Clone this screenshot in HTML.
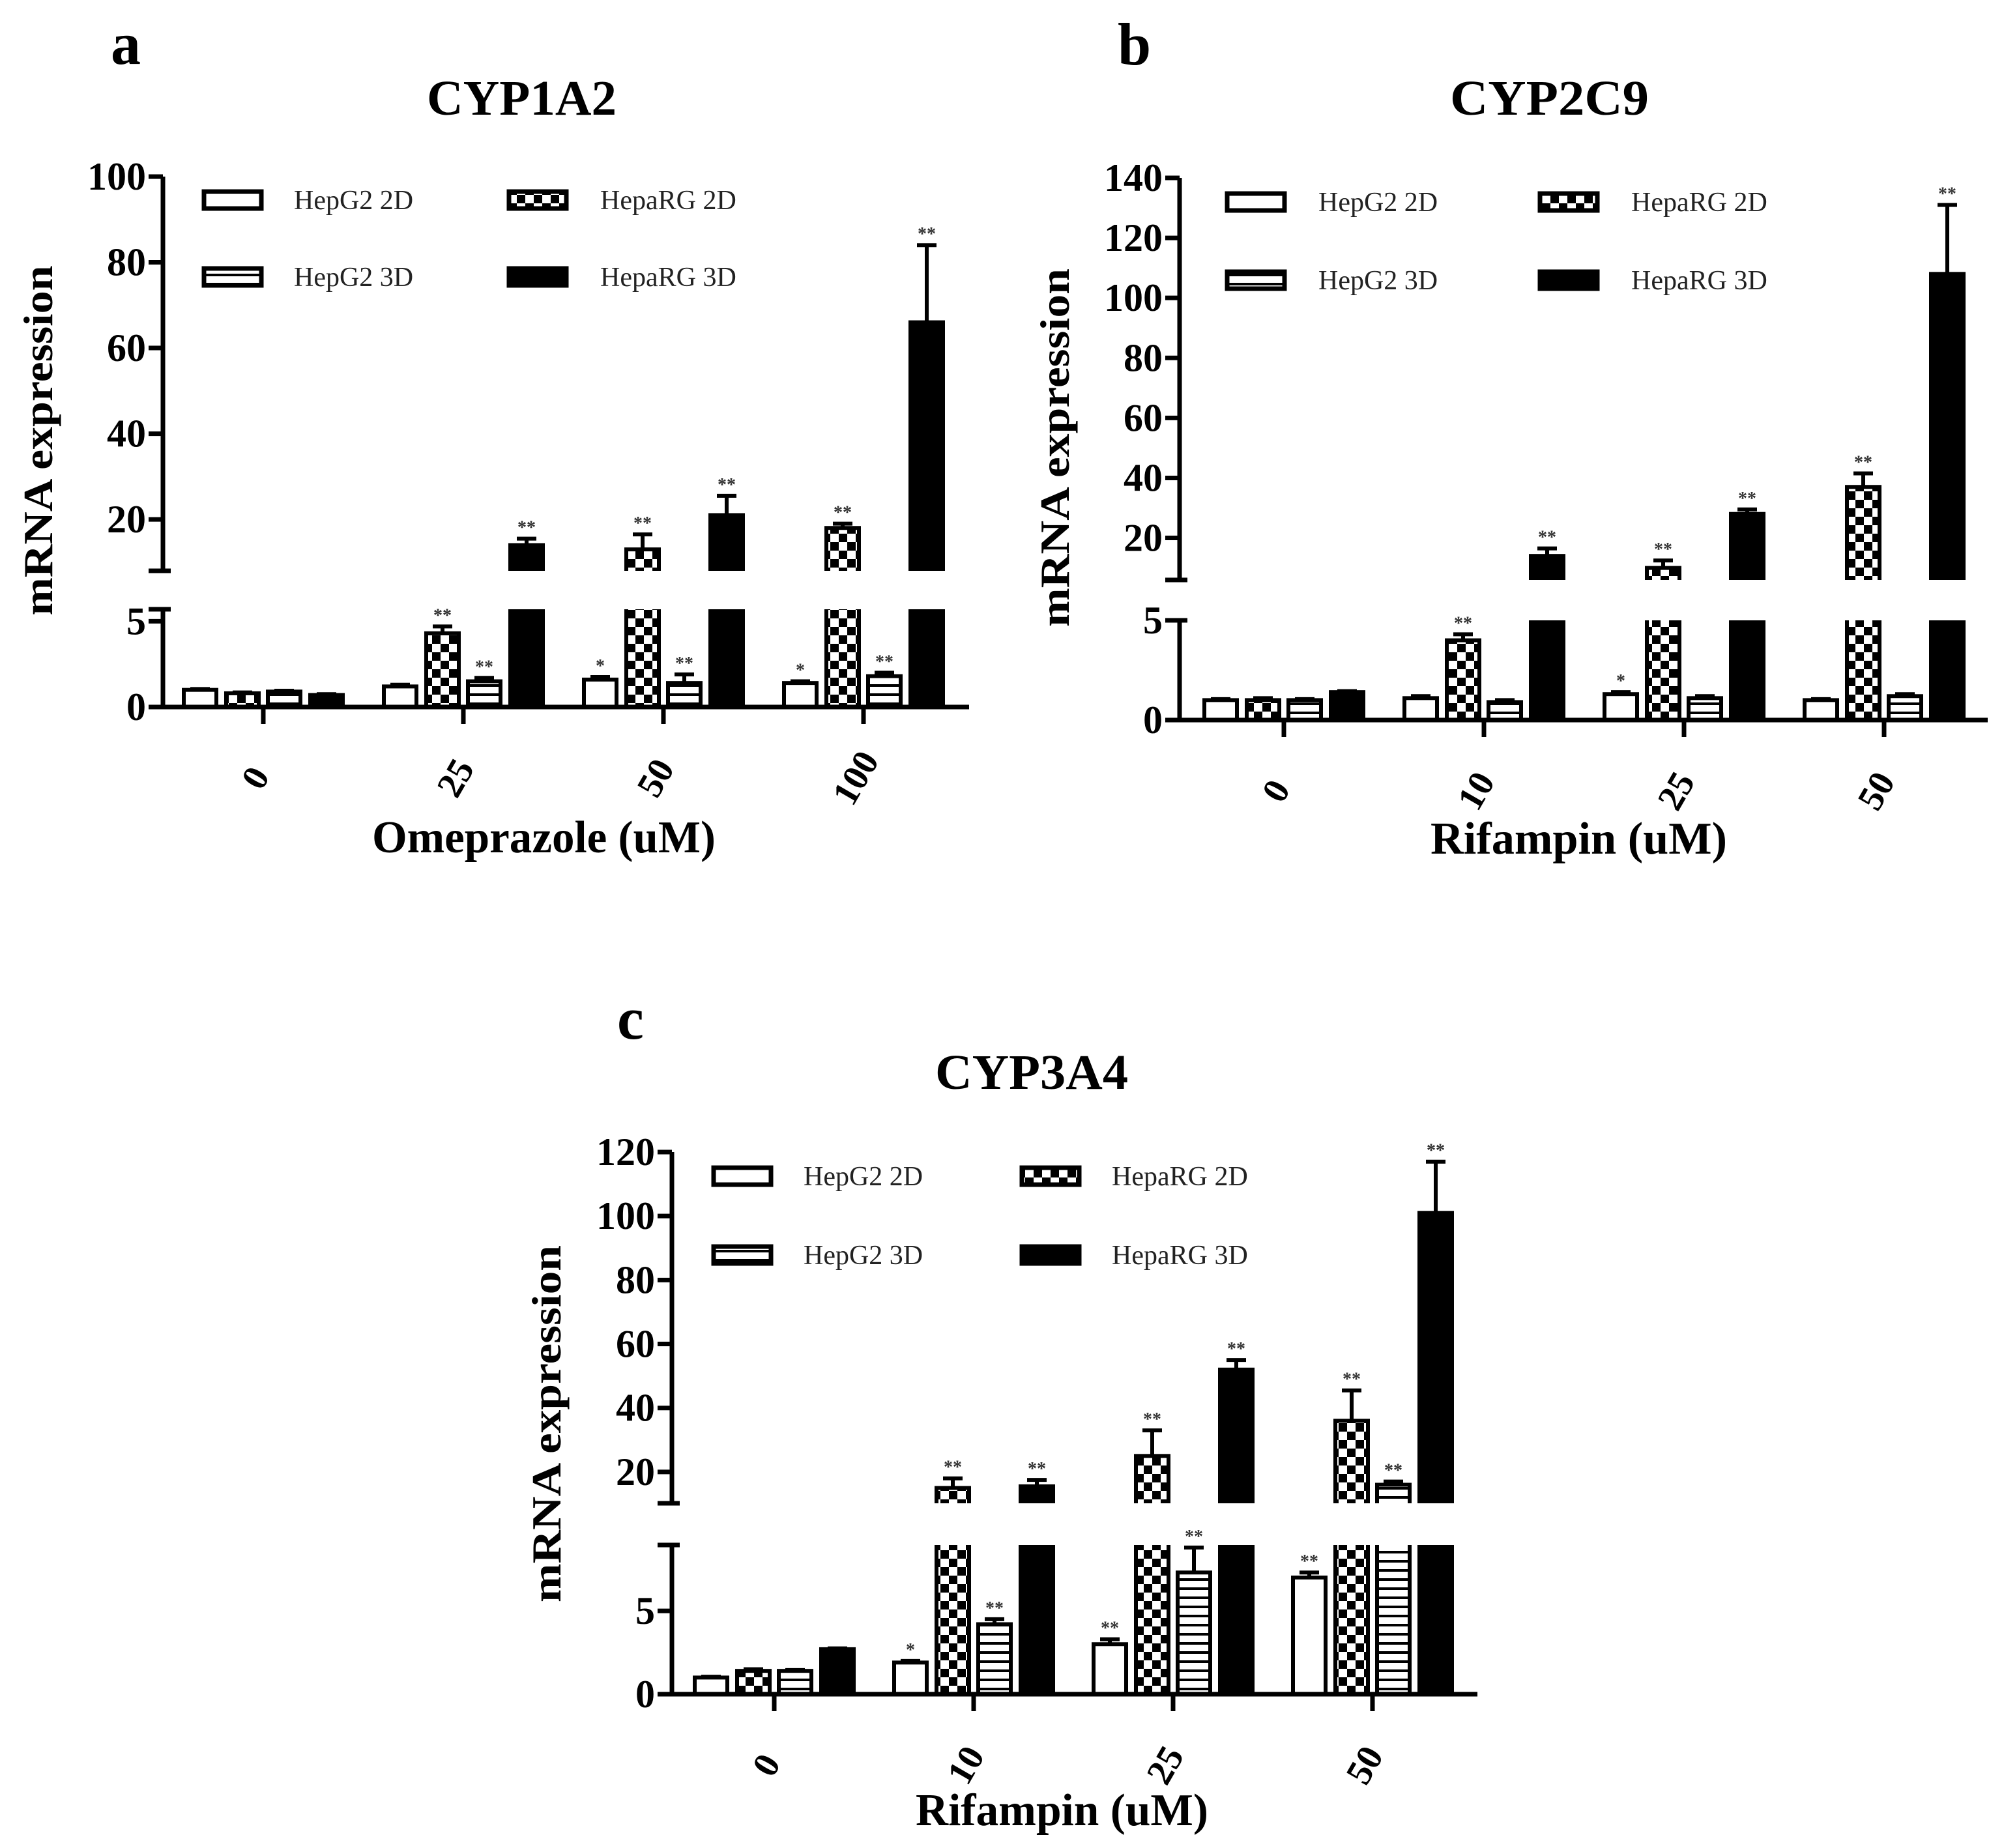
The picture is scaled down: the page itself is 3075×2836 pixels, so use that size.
<!DOCTYPE html>
<html><head><meta charset="utf-8"><style>
html,body{margin:0;padding:0;background:#fff}
svg{display:block}
text{font-family:"Liberation Serif",serif}
</style></head><body>
<svg id="fig" width="3075" height="2836" viewBox="0 0 3075 2836" xmlns="http://www.w3.org/2000/svg">
<defs>
<pattern id="checker" patternUnits="userSpaceOnUse" width="26" height="26">
<rect width="26" height="26" fill="#fff"/><rect width="13" height="13" fill="#000"/><rect x="13" y="13" width="13" height="13" fill="#000"/>
</pattern>
<pattern id="stripes" patternUnits="userSpaceOnUse" width="12" height="14">
<rect width="12" height="14" fill="#fff"/><rect y="0" width="12" height="4" fill="#000"/>
</pattern>
</defs>
</svg>
<script>
// ---------- Panel a data (CYP1A2, Omeprazole) ----------
const aCats = ["0","25","50","100"];
const aHepG22D = [1.0, 1.2, 1.6, 1.4];
const aHepaRG2D = [0.8, 4.3, 13, 18];
const aHepG23D = [0.9, 1.5, 1.4, 1.8];
const aHepaRG3D = [0.7, 14, 21, 66];
const aErrHepG22D = [0.05, 0.1, 0.15, 0.1];
const aErrHepaRG2D = [0.05, 0.4, 3.5, 1.0];
const aErrHepG23D = [0.05, 0.2, 0.5, 0.2];
const aErrHepaRG3D = [0.05, 1.5, 4.5, 18];
const aSigHepG22D = ["","","*","*"];
const aSigHepaRG2D = ["","**","**","**"];
const aSigHepG23D = ["","**","**","**"];
const aSigHepaRG3D = ["","**","**","**"];
const aUpperTicks = [20,40,60,80,100];
const aLowerTicks = [0,5];
// ---------- Panel b data (CYP2C9, Rifampin) ----------
const bCats = ["0","10","25","50"];
const bHepG22D = [1.0, 1.1, 1.3, 1.0];
const bHepaRG2D = [1.0, 4.0, 10, 37];
const bHepG23D = [1.0, 0.9, 1.1, 1.2];
const bHepaRG3D = [1.4, 14, 28, 108];
const bErrHepG22D = [0.05, 0.1, 0.1, 0.05];
const bErrHepaRG2D = [0.1, 0.3, 2.5, 4.5];
const bErrHepG23D = [0.05, 0.1, 0.1, 0.1];
const bErrHepaRG3D = [0.05, 2.5, 1.5, 23];
const bSigHepG22D = ["","","*",""];
const bSigHepaRG2D = ["","**","**","**"];
const bSigHepG23D = ["","","",""];
const bSigHepaRG3D = ["","**","**","**"];
const bUpperTicks = [20,40,60,80,100,120,140];
const bLowerTicks = [0,5];
// ---------- Panel c data (CYP3A4, Rifampin) ----------
const cCats = ["0","10","25","50"];
const cHepG22D = [1.0, 1.9, 3.0, 7.0];
const cHepaRG2D = [1.4, 15, 25, 36];
const cHepG23D = [1.4, 4.2, 7.3, 16];
const cHepaRG3D = [2.7, 15.5, 52, 101];
const cErrHepG22D = [0.05, 0.1, 0.3, 0.3];
const cErrHepaRG2D = [0.1, 3, 8, 9.5];
const cErrHepG23D = [0.05, 0.3, 1.5, 1.0];
const cErrHepaRG3D = [0.05, 2, 3, 16];
const cSigHepG22D = ["","*","**","**"];
const cSigHepaRG2D = ["","**","**","**"];
const cSigHepG23D = ["","**","**","**"];
const cSigHepaRG3D = ["","**","**","**"];
const cUpperTicks = [20,40,60,80,100,120];
const cLowerTicks = [0,5];

const NS = "http://www.w3.org/2000/svg";
const svg = document.getElementById('fig');
function mk(tag, attrs, parent){
  const e = document.createElementNS(NS, tag);
  for (const k in attrs) e.setAttribute(k, attrs[k]);
  (parent||svg).appendChild(e);
  return e;
}
const fills = ["#fff","url(#checker)","url(#stripes)","#000"];
const seriesNames = ["HepG2 2D","HepaRG 2D","HepG2 3D","HepaRG 3D"];
const seriesKeys = ["hepg2-2d","heparg-2d","hepg2-3d","heparg-3d"];

function drawPanel(p, id){
  const g = mk('g', {});
  
  
  // scales
  const yLow = v => p.zeroY - (v / p.lowMax) * (p.zeroY - p.lowTopY);
  const yUp = v => p.upBotY - (v - p.upMin) / (p.upMax - p.upMin) * (p.upBotY - p.upTopY);
  const xG = i => p.x0Tick + i * p.groupStep;
  const offs = [-97, -32, 32, 97], bw = 50;
  // labels
  let t = mk('text', {x:p.letterX, y:p.letterY, 'font-size':92, 'font-weight':'bold'}, g); t.textContent = id;
   
  t = mk('text', {x:p.titleX, y:p.titleY, 'font-size':76, 'font-weight':'bold', textLength:p.titleW, lengthAdjust:'spacingAndGlyphs'}, g); t.textContent = p.title;
   
  t = mk('text', {x:0, y:0, 'font-size':64, 'font-weight':'bold', 'text-anchor':'middle', textLength:p.yTitleLen, lengthAdjust:'spacingAndGlyphs', transform:`translate(${p.yTitleX},${p.yTitleY}) rotate(-90)`}, g); t.textContent = 'mRNA expression';
   
  t = mk('text', {x:p.xTitleX, y:p.xTitleY, 'font-size':70, 'font-weight':'bold', textLength:p.xTitleW, lengthAdjust:'spacingAndGlyphs'}, g); t.textContent = p.xTitle;
   
  // clip paths
  const cu = mk('clipPath', {id:'cu'+id}, g); mk('rect', {x:p.axisX, y:0, width:p.axisEnd-p.axisX, height:p.upBotY}, cu);
  const cl = mk('clipPath', {id:'cl'+id}, g); mk('rect', {x:p.axisX, y:p.lowTopY, width:p.axisEnd-p.axisX, height:p.zeroY-p.lowTopY+3}, cl);
  const gu = mk('g', {'clip-path':`url(#cu${id})`}, g);
  const gl = mk('g', {'clip-path':`url(#cl${id})`}, g);
  const bars = mk('g', {}, g);
  // bars
  p.series.forEach((vals, s) => {
    vals.forEach((v, i) => {
      const cx = xG(i) + offs[s], x = cx - bw/2;
      const r1 = mk('rect', {x:x, y: v > p.lowMax ? p.lowTopY - 20 : yLow(v), width:bw, height: v > p.lowMax ? p.zeroY - p.lowTopY + 20 : p.zeroY - yLow(v), fill:fills[s], stroke:'#000', 'stroke-width':6}, gl);
      
      
      const e = p.errs[s][i];
      let topY, ex;
      if (v > p.lowMax) {
        const r2 = mk('rect', {x:x, y:yUp(v), width:bw, height:p.upBotY - yUp(v) + 20, fill:fills[s], stroke:'#000', 'stroke-width':6}, gu);
        
        
        topY = yUp(v); ex = yUp(v + e);
      } else { topY = yLow(v); ex = yLow(Math.min(v + e, p.lowMax)); }
      const eb = mk('path', {d:`M${cx},${topY} V${ex} M${cx-15},${ex} H${cx+15}`, stroke:'#000', 'stroke-width':6, fill:'none'}, bars);
      
      
      const sg = p.sigs[s][i];
      if (sg) {
        const st = mk('text', {x:cx, y:ex - 8, 'font-size':28, 'font-weight':'bold', 'text-anchor':'middle', fill:'#333'}, bars); st.textContent = sg;
        
        
      }
    });
  });
  // axes
  const ax = mk('g', {stroke:'#000', 'stroke-width':7, fill:'none'}, g);
   
  mk('path', {d:`M${p.axisX},${yUp(p.upMax)} V${p.upBotY} M${p.axisX-22},${p.upBotY} H${p.axisX+12}`}, ax);
  mk('path', {d:`M${p.axisX},${p.lowTopY} V${p.zeroY} M${p.axisX-22},${p.lowTopY} H${p.axisX+12}`}, ax);
  p.upTicks.forEach(v => {
    mk('path', {d:`M${p.axisX-22},${yUp(v)} H${p.axisX}`}, ax);
    const tl = mk('text', {x:p.axisX-26, y:yUp(v)+20, 'font-size':60, 'font-weight':'bold', 'text-anchor':'end', stroke:'none', fill:'#000'}, g); tl.textContent = v;
     
  });
  p.lowTicks.forEach(v => {
    mk('path', {d:`M${p.axisX-22},${yLow(v)} H${p.axisX}`}, ax);
    const tl = mk('text', {x:p.axisX-26, y:yLow(v)+20, 'font-size':60, 'font-weight':'bold', 'text-anchor':'end', stroke:'none', fill:'#000'}, g); tl.textContent = v;
     
  });
  const xa = mk('path', {d:`M${p.axisX-3},${p.zeroY} H${p.axisEnd}`, stroke:'#000', 'stroke-width':7}, g);
   
  p.cats.forEach((c, i) => {
    mk('path', {d:`M${xG(i)},${p.zeroY} V${p.zeroY+26}`, stroke:'#000', 'stroke-width':7}, g);
    const tl = mk('text', {x:0, y:0, 'font-size':56, 'font-weight':'bold', 'text-anchor':'middle', transform:`translate(${xG(i)+4},${p.zeroY+118}) rotate(-60)`}, g); tl.textContent = c;
     
  });
  // legend
  const lg = mk('g', {}, g);
   
  const order = [[0,0],[1,0],[0,1],[1,1]];
  [0,1,2,3].forEach(s => {
    const col = s===0||s===2 ? 0 : 1, row = s<2 ? 0 : 1;
    const bx = col ? p.legX2 : p.legX1, by = row ? p.legY2 : p.legY1;
    const lb = mk('rect', {x:bx, y:by-13, width:88, height:26, fill:fills[s], stroke:'#000', 'stroke-width':7}, lg);
     
    const lt = mk('text', {x:bx + (col ? p.legT2 : p.legT1), y:by+14, 'font-size':42, fill:'#222'}, lg); lt.textContent = seriesNames[s];
     
  });
}

drawPanel({cats:aCats, series:[aHepG22D,aHepaRG2D,aHepG23D,aHepaRG3D], errs:[aErrHepG22D,aErrHepaRG2D,aErrHepG23D,aErrHepaRG3D], sigs:[aSigHepG22D,aSigHepaRG2D,aSigHepG23D,aSigHepaRG3D],
  upTicks:aUpperTicks, lowTicks:aLowerTicks,
  axisX:250, axisEnd:1487, zeroY:1085, lowTopY:935, lowMax:5.7, upBotY:876, upTopY:271, upMin:8, upMax:100,
  x0Tick:404, groupStep:307, letterX:170, letterY:98, title:'CYP1A2', titleX:655, titleY:176, titleW:291,
  yTitleX:80, yTitleY:676, yTitleLen:537, xTitle:'Omeprazole (uM)', xTitleX:571, xTitleY:1308, xTitleW:527,
  legX1:313, legX2:781, legY1:307, legY2:425, legT1:138, legT2:140}, 'a');

drawPanel({cats:bCats, series:[bHepG22D,bHepaRG2D,bHepG23D,bHepaRG3D], errs:[bErrHepG22D,bErrHepaRG2D,bErrHepG23D,bErrHepaRG3D], sigs:[bSigHepG22D,bSigHepaRG2D,bSigHepG23D,bSigHepaRG3D],
  upTicks:bUpperTicks, lowTicks:bLowerTicks,
  axisX:1810, axisEnd:3050, zeroY:1105, lowTopY:952, lowMax:5, upBotY:890, upTopY:273, upMin:6, upMax:140,
  x0Tick:1970, groupStep:307, letterX:1715, letterY:99, title:'CYP2C9', titleX:2225, titleY:176, titleW:305,
  yTitleX:1640, yTitleY:687, yTitleLen:550, xTitle:'Rifampin (uM)', xTitleX:2195, xTitleY:1310, xTitleW:455,
  legX1:1883, legX2:2363, legY1:310, legY2:430, legT1:140, legT2:140}, 'b');

drawPanel({cats:cCats, series:[cHepG22D,cHepaRG2D,cHepG23D,cHepaRG3D], errs:[cErrHepG22D,cErrHepaRG2D,cErrHepG23D,cErrHepaRG3D], sigs:[cSigHepG22D,cSigHepaRG2D,cSigHepG23D,cSigHepaRG3D],
  upTicks:cUpperTicks, lowTicks:cLowerTicks,
  axisX:1031, axisEnd:2267, zeroY:2600, lowTopY:2371, lowMax:8.95, upBotY:2307, upTopY:1768, upMin:10.2, upMax:120,
  x0Tick:1188, groupStep:306, letterX:947, letterY:1594, title:'CYP3A4', titleX:1435, titleY:1671, titleW:296,
  yTitleX:860, yTitleY:2185, yTitleLen:548, xTitle:'Rifampin (uM)', xTitleX:1405, xTitleY:2801, xTitleW:449,
  legX1:1095, legX2:1568, legY1:1805, legY2:1926, legT1:138, legT2:138}, 'c');
</script>
</body></html>
